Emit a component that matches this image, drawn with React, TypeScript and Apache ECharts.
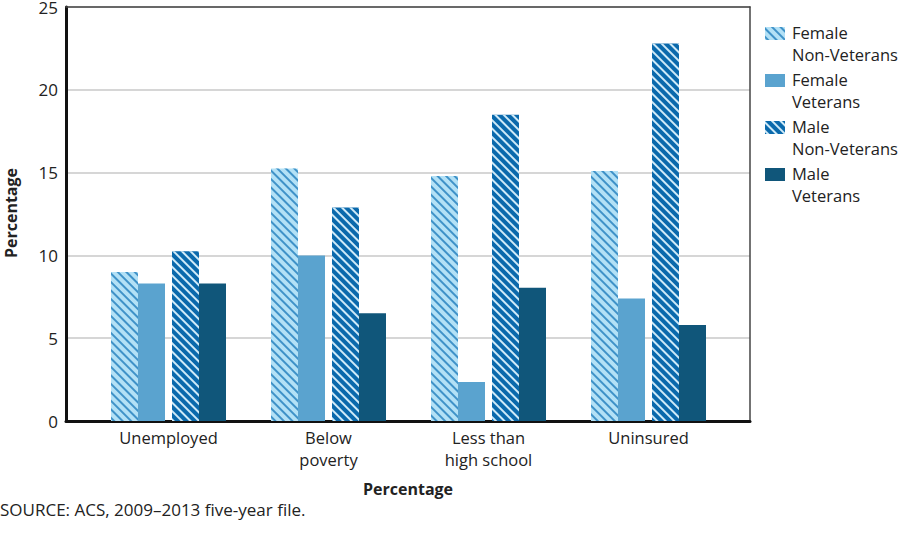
import React, { useEffect, useRef } from "react";
import * as echarts from "echarts";

const categories = ["Unemployed", "Below\npoverty", "Less than\nhigh school", "Uninsured"];
const femaleNonVeterans = [9.0, 15.25, 14.8, 15.1];
const femaleVeterans = [8.3, 10.0, 2.35, 7.4];
const maleNonVeterans = [10.25, 12.9, 18.5, 22.8];
const maleVeterans = [8.3, 6.5, 8.05, 5.8];
const legendLabels = ["Female\nNon-Veterans", "Female\nVeterans", "Male\nNon-Veterans", "Male\nVeterans"];
const seriesNames = ["Female Non-Veterans", "Female Veterans", "Male Non-Veterans", "Male Veterans"];
const yTicks = [0, 5, 10, 15, 20, 25];
const yAxisTitle = "Percentage";
const xAxisTitle = "Percentage";
const sourceNote = "SOURCE: ACS, 2009\u20132013 five-year file.";

const FONT = "'Open Sans', sans-serif";

export default function App() {
  const ref = useRef<HTMLDivElement>(null);
  useEffect(() => {
    if (!ref.current) return;
    const chart = echarts.init(ref.current, null, { renderer: "svg" });
    const hatch = (bg: string, line: string) => ({
      color: bg,
      decal: {
        symbol: "rect",
        symbolSize: 1,
        color: line,
        dashArrayX: [1, 0],
        dashArrayY: [2, 4],
        rotation: Math.PI / 4,
      },
    });
    const styles = [
      hatch("#b3e1f6", "#3f92c8"),
      { color: "#5aa3cf" },
      hatch("#0a69ac", "#cfeaf8"),
      { color: "#10567a" },
    ];
    const dataSets = [femaleNonVeterans, femaleVeterans, maleNonVeterans, maleVeterans];
    const barSeries: any[] = [];
    dataSets.forEach((d, i) => {
      if (i === 2) {
        barSeries.push({
          type: "bar",
          name: "_spacer",
          xAxisIndex: 2,
          yAxisIndex: 2,
          barWidth: 7,
          barGap: 0,
          silent: true,
          data: categories.map(() => 0),
          itemStyle: { color: "rgba(0,0,0,0)" },
        });
      }
      barSeries.push({
        type: "bar",
        name: seriesNames[i],
        xAxisIndex: 2,
        yAxisIndex: 2,
        barWidth: 27,
        barGap: 0,
        data: d,
        itemStyle: styles[i],
      });
    });

    chart.setOption({
      animation: false,
      backgroundColor: "#ffffff",
      textStyle: { fontFamily: FONT },
      grid: [
        { left: 66, right: 150, top: 7, bottom: 119, containLabel: false, outerBoundsMode: "none" },
        { left: 88.5, right: 171.5, top: 7, bottom: 119, containLabel: false, outerBoundsMode: "none" },
      ],
      xAxis: [
        {
          type: "value",
          gridIndex: 0,
          min: 0,
          max: 1,
          position: "bottom",
          axisLine: { show: true, onZero: false, lineStyle: { color: "#111", width: 3 } },
          axisTick: { show: false },
          axisLabel: { show: false },
          splitLine: { show: false },
          name: xAxisTitle,
          nameLocation: "middle",
          nameGap: 60,
          nameTextStyle: { fontFamily: FONT, fontSize: 16, fontWeight: "bold", color: "#222" },
        },
        {
          type: "value",
          gridIndex: 0,
          min: 0,
          max: 1,
          position: "top",
          axisLine: { show: true, onZero: false, lineStyle: { color: "#444", width: 1.5 } },
          axisTick: { show: false },
          axisLabel: { show: false },
          splitLine: { show: false },
        },
        {
          type: "category",
          gridIndex: 1,
          data: categories,
          axisLine: { show: false },
          axisTick: { show: false },
          axisLabel: {
            fontFamily: FONT,
            fontSize: 16.5,
            lineHeight: 22.5,
            color: "#222",
            margin: 5,
          },
        },
      ],
      yAxis: [
        {
          type: "value",
          gridIndex: 0,
          min: 0,
          max: 25,
          interval: 5,
          axisLine: { show: true, onZero: false, lineStyle: { color: "#111", width: 3 } },
          axisTick: { show: false },
          axisLabel: {
            fontFamily: FONT,
            fontSize: 17,
            color: "#222",
            margin: 8,
            formatter: (v: number) => (yTicks.includes(v) ? String(v) : ""),
          },
          splitLine: { show: true, lineStyle: { color: "#c8c8c8", width: 1.5 } },
        },
        {
          type: "value",
          gridIndex: 0,
          min: 0,
          max: 25,
          position: "right",
          axisLine: { show: true, onZero: false, lineStyle: { color: "#444", width: 1.5 } },
          axisTick: { show: false },
          axisLabel: { show: false },
          splitLine: { show: false },
        },
        {
          type: "value",
          gridIndex: 1,
          min: 0,
          max: 25,
          show: false,
        },
      ],
      legend: {
        orient: "vertical",
        left: 765,
        top: 27,
        padding: 0,
        itemWidth: 20,
        itemHeight: 13,
        itemGap: 34,
        data: seriesNames,
        formatter: () => "",
        selectedMode: false,
        icon: "rect",
      },
      graphic: [
        ...legendLabels.map((t, i) => ({
          type: "text",
          left: 792,
          top: 21 + i * 47,
          style: {
            text: t,
            fontFamily: FONT,
            fontSize: 16.5,
            lineHeight: 22.5,
            fill: "#222",
          },
        })),
        {
          type: "text",
          x: 11,
          y: 213,
          rotation: Math.PI / 2,
          style: {
            text: yAxisTitle,
            fontFamily: FONT,
            fontSize: 16,
            fontWeight: "bold",
            fill: "#222",
            align: "center",
            verticalAlign: "middle",
          },
        },
        {
          type: "text",
          left: 0,
          top: 501,
          style: {
            text: sourceNote,
            fontFamily: FONT,
            fontSize: 17,
            fill: "#222",
          },
        },
      ],
      series: barSeries,
    });
    return () => chart.dispose();
  }, []);
  return (
    <div
      ref={ref}
      style={{ width: 900, height: 540, position: "absolute", left: 0, top: 0 }}
    />
  );
}
